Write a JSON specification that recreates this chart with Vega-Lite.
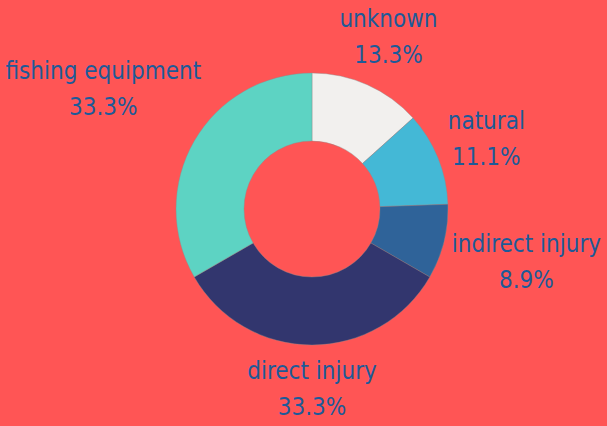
{
  "$schema": "https://vega.github.io/schema/vega-lite/v6.json",
  "width": 590,
  "height": 410,
  "padding": {"left": 17, "top": 4, "right": 0, "bottom": 12},
  "autosize": {"type": "none"},
  "background": "#FF5555",
  "config": {"view": {"stroke": null}, "text": {"font": "DejaVu Sans Condensed", "fontSize": 24, "lineHeight": 36, "lineBreak": "\n", "color": "#1D5A98", "align": "center", "baseline": "middle", "dy": -17}},
  "data": {
    "values": [
      {"category": "unknown", "count": 6, "seq": 1, "label": "unknown\n13.3%"},
      {"category": "natural", "count": 5, "seq": 2, "label": "natural\n11.1%"},
      {"category": "indirect injury", "count": 4, "seq": 3, "label": "indirect injury\n8.9%"},
      {"category": "direct injury", "count": 15, "seq": 4, "label": "direct injury\n33.3%"},
      {"category": "fishing equipment", "count": 15, "seq": 5, "label": "fishing equipment\n33.3%"}
    ]
  },
  "encoding": {
    "theta": {"field": "count", "type": "quantitative", "stack": true},
    "order": {"field": "seq", "type": "quantitative"}
  },
  "layer": [
    {
      "mark": {"type": "arc", "radius": 136, "radius2": 68, "stroke": "#8a8a8a", "strokeWidth": 0.4},
      "encoding": {
        "color": {
          "field": "category",
          "type": "nominal",
          "legend": null,
          "scale": {
            "domain": ["unknown", "natural", "indirect injury", "direct injury", "fishing equipment"],
            "range": ["#F2F0EE", "#44B8D6", "#2F6399", "#32366E", "#5DD3C3"]
          }
        }
      }
    },
    {
      "mark": {"type": "text", "radius": 188},
      "encoding": {
        "text": {"condition": {"test": "datum.category === 'unknown' || datum.category === 'natural'", "field": "label"}, "value": ""}
      }
    },
    {
      "mark": {"type": "text", "radius": 180},
      "encoding": {
        "text": {"condition": {"test": "datum.category === 'direct injury'", "field": "label"}, "value": ""}
      }
    },
    {
      "mark": {"type": "text", "radius": 221},
      "encoding": {
        "text": {"condition": {"test": "datum.category === 'indirect injury'", "field": "label"}, "value": ""}
      }
    },
    {
      "mark": {"type": "text", "radius": 241},
      "encoding": {
        "text": {"condition": {"test": "datum.category === 'fishing equipment'", "field": "label"}, "value": ""}
      }
    }
  ]
}
